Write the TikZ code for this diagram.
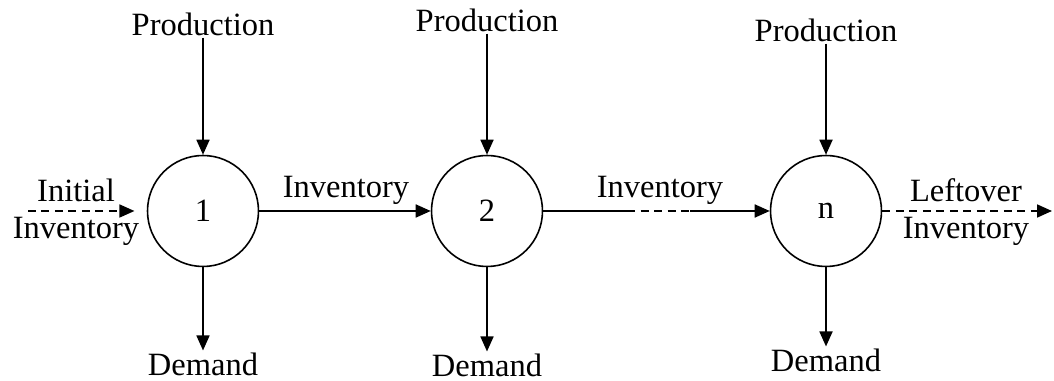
\documentclass[tikz,border=0pt]{standalone}
\usepackage{fontspec}
\setmainfont{Liberation Serif}
\usetikzlibrary{arrows.meta,positioning}

\begin{document}
\begin{tikzpicture}[x=0.02cm,y=0.02cm,
    period/.style={draw,circle,line width=0.9pt,minimum size=2.22cm,inner sep=0pt,font=\fontsize{18.5}{20}\selectfont},
    lbl/.style={font=\fontsize{18.5}{20}\selectfont,inner sep=1pt},
    flow/.style={line width=1pt,-{Triangle[length=0.3cm,width=0.26cm]}},
    link/.style={line width=1pt},
    dashes/.style={dash pattern=on 0.16cm off 0.11cm}]
\useasboundingbox (0,0) rectangle (1054,381);

% the periods
\node[period] (p1) at (203,170) {1};
\node[period] (p2) at (487,170) {2};
\node[period] (pn) at (826,170) {n};

% production coming in from above
\node[lbl] (prod1) at (203,357) {Production};
\node[lbl] (prod2) at (487,361) {Production};
\node[lbl] (prodn) at (826,351) {Production};
\draw[flow] (prod1.south) -- (p1.north);
\draw[flow] (prod2.south) -- (p2.north);
\draw[flow] (prodn.south) -- (pn.north);

% demand leaving below
\node[lbl] (dem1) at (203,17) {Demand};
\node[lbl] (dem2) at (487,16) {Demand};
\node[lbl] (demn) at (826,21) {Demand};
\draw[flow] (p1.south) -- (dem1.north);
\draw[flow] (p2.south) -- (dem2.north);
\draw[flow] (pn.south) -- (demn.north);

% inventory carried between periods
\coordinate (start) at (28,170);
\coordinate (gapl) at (627,170);
\coordinate (gapr) at (690,170);
\coordinate (stop) at (1052,170);

\draw[flow,dashes,shorten >=7] (start) -- (p1.west);
\node[lbl] (init) at (76,191) {Initial};
\node[lbl] (initinv) at (76,150) {Inventory};

\draw[flow] (p1.east) -- (p2.west);
\node[lbl] (inv12) at (346,191) {Inventory};

\draw[link] (p2.east) -- (gapl);
\draw[link,dashes] (gapl) -- (gapr);
\draw[flow] (gapr) -- (pn.west);
\node[lbl] (inv2n) at (660,191) {Inventory};

\draw[flow,dashes] (pn.east) -- (stop);
\node[lbl] (left) at (966,191) {Leftover};
\node[lbl] (leftinv) at (966,150) {Inventory};
\end{tikzpicture}
\end{document}
